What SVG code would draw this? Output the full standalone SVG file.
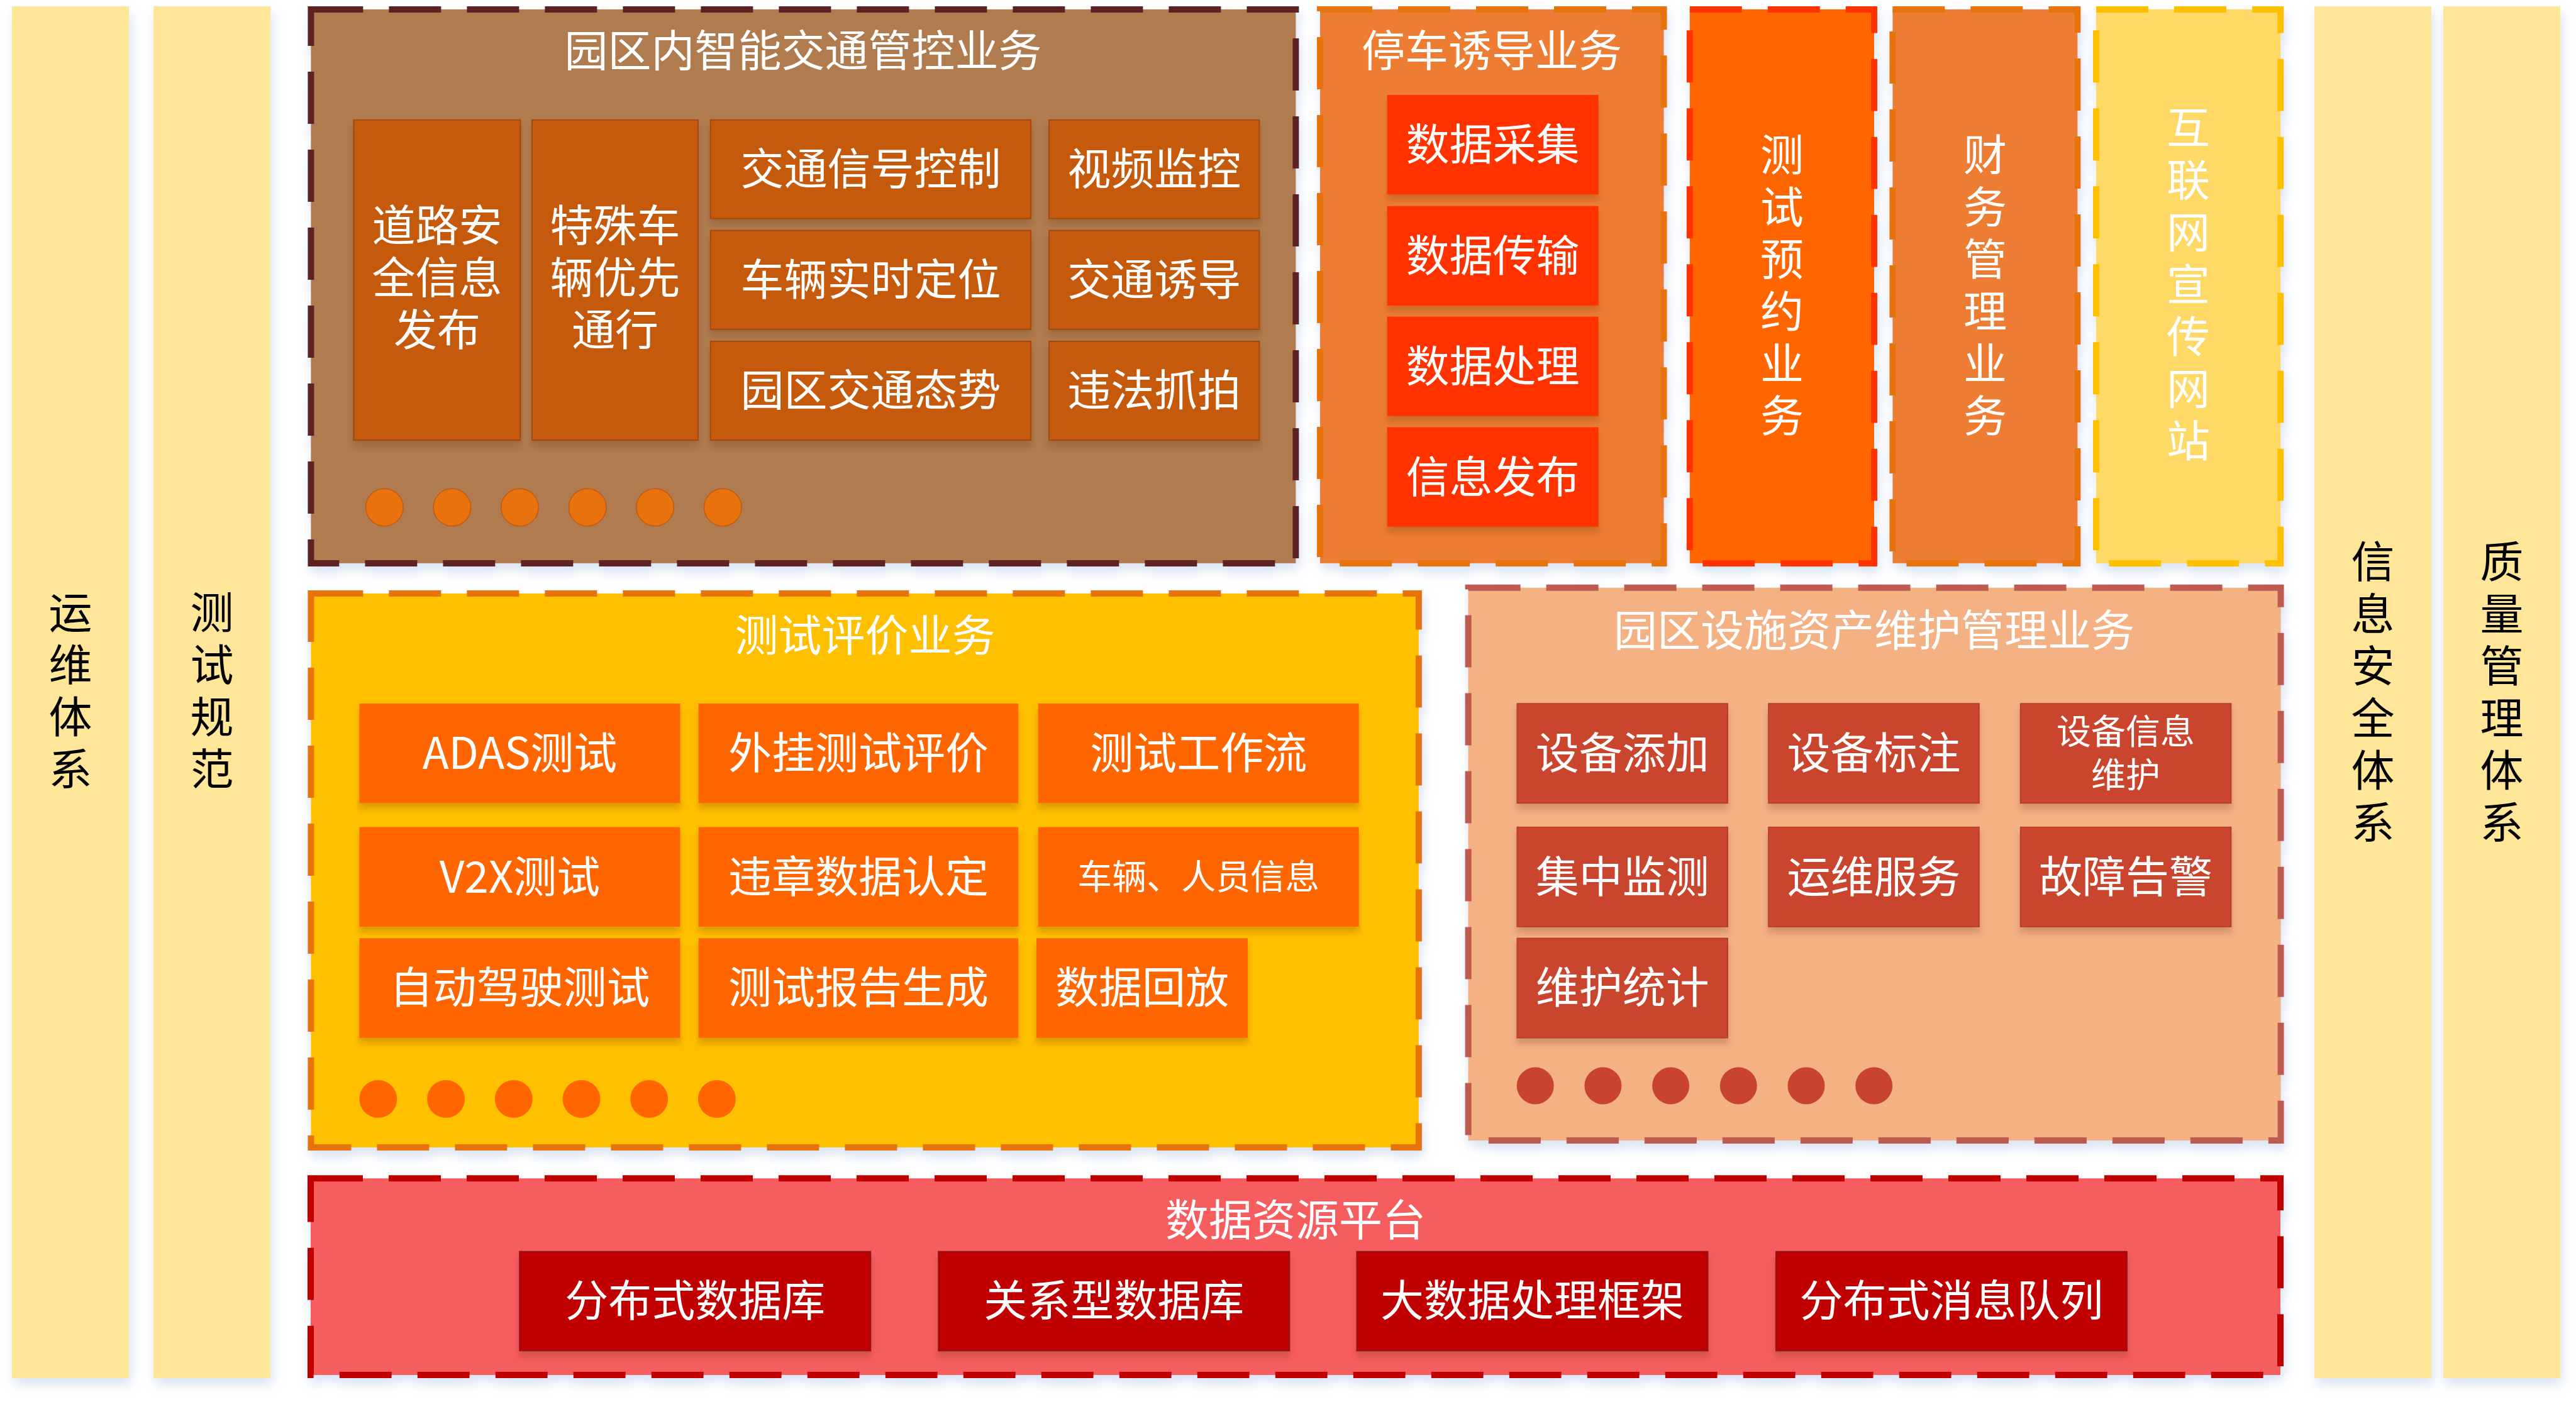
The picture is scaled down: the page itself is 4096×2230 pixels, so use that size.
<svg xmlns="http://www.w3.org/2000/svg" width="4096" height="2230" viewBox="0 0 4096 2230">
<defs>
<filter id="soft" x="-25%" y="-10%" width="150%" height="130%"><feDropShadow dx="3" dy="10" stdDeviation="9" flood-color="#A9C1E4" flood-opacity="0.45"/></filter>
<filter id="sh" x="-10%" y="-20%" width="120%" height="150%"><feDropShadow dx="0" dy="9" stdDeviation="5" flood-color="#5A2A00" flood-opacity="0.22"/></filter>
</defs>
<style>
text{font-family:"Noto Sans CJK SC","Noto Sans",sans-serif;fill:#fff;text-anchor:middle;dominant-baseline:central}
.t{font-size:69px}
.s{font-size:55px}
.k{fill:#000}
.v{writing-mode:vertical-rl;letter-spacing:14px}
.col{fill:#FFE699;filter:url(#soft)}
.cont{stroke-width:10;stroke-dasharray:83 41;filter:url(#soft)}
.b1{fill:#C55A11;stroke:#A34A0D;stroke-width:2;filter:url(#sh)}
.b2{fill:#FF3300;filter:url(#sh)}
.b6{fill:#FF6600;filter:url(#sh)}
.b7{fill:#C9442E;stroke:#B53B27;stroke-width:1.5;filter:url(#sh)}
.b8{fill:#C00000;stroke:#8E1616;stroke-width:2;filter:url(#sh)}
.d1{fill:#E8730E;stroke:#C05A10;stroke-width:1.5}
.d6{fill:#FF6600}
.d7{fill:#C9442E}
</style>

<!-- side columns -->
<g id="yunwei">
<rect class="col" x="19" y="10" width="186" height="2182"/>
<text class="t k v" x="112" y="1105">运维体系</text>
</g>
<g id="ceshiguifan">
<rect class="col" x="244" y="10" width="186" height="2182"/>
<text class="t k v" x="337" y="1105">测试规范</text>
</g>
<g id="xinxianquan">
<rect class="col" x="3680" y="10" width="186" height="2182"/>
<text class="t k v" x="3773" y="1107">信息安全体系</text>
</g>
<g id="zhiliang">
<rect class="col" x="3885" y="10" width="186" height="2182"/>
<text class="t k v" x="3978" y="1107">质量管理体系</text>
</g>

<!-- 园区内智能交通管控业务 -->
<g id="traffic">
<rect class="cont" x="494.4" y="14.9" width="1566" height="881" fill="#B07B50" stroke="#5F2320"/>
<text class="t" x="1277" y="75.5">园区内智能交通管控业务</text>
<g id="t-road"><rect class="b1" x="562.4" y="190.8" width="265" height="509.3"/>
<text class="t"><tspan x="695" y="354">道路安</tspan><tspan x="695" y="437">全信息</tspan><tspan x="695" y="520">发布</tspan></text></g>
<g id="t-special"><rect class="b1" x="846.1" y="190.8" width="263.8" height="509.3"/>
<text class="t"><tspan x="978" y="354">特殊车</tspan><tspan x="978" y="437">辆优先</tspan><tspan x="978" y="520">通行</tspan></text></g>
<g id="t-signal"><rect class="b1" x="1129.8" y="190.8" width="509.3" height="156.8"/><text class="t" x="1384.5" y="264">交通信号控制</text></g>
<g id="t-video"><rect class="b1" x="1668.1" y="190.8" width="334.3" height="156.8"/><text class="t" x="1835.2" y="264">视频监控</text></g>
<g id="t-locate"><rect class="b1" x="1129.8" y="366.6" width="509.3" height="157.2"/><text class="t" x="1384.5" y="440">车辆实时定位</text></g>
<g id="t-guide"><rect class="b1" x="1668.1" y="366.6" width="334.3" height="157.2"/><text class="t" x="1835.2" y="440">交通诱导</text></g>
<g id="t-situation"><rect class="b1" x="1129.8" y="542.9" width="509.3" height="157.2"/><text class="t" x="1384.5" y="616">园区交通态势</text></g>
<g id="t-capture"><rect class="b1" x="1668.1" y="542.9" width="334.3" height="157.2"/><text class="t" x="1835.2" y="616">违法抓拍</text></g>
<g id="t-dots">
<circle class="d1" cx="611.3" cy="807" r="29.8"/><circle class="d1" cx="718.9" cy="807" r="29.8"/><circle class="d1" cx="826.5" cy="807" r="29.8"/><circle class="d1" cx="934.1" cy="807" r="29.8"/><circle class="d1" cx="1041.7" cy="807" r="29.8"/><circle class="d1" cx="1149.3" cy="807" r="29.8"/>
</g>
</g>

<!-- 停车诱导业务 -->
<g id="parking">
<rect class="cont" x="2099" y="14.9" width="546.6" height="881" fill="#ED7D31" stroke="#E8730E"/>
<text class="t" x="2372" y="75.5">停车诱导业务</text>
<g id="p-collect"><rect class="b2" x="2205.6" y="151" width="336" height="158.4"/><text class="t" x="2373.6" y="225">数据采集</text></g>
<g id="p-transfer"><rect class="b2" x="2205.6" y="327.7" width="336" height="158.4"/><text class="t" x="2373.6" y="402">数据传输</text></g>
<g id="p-process"><rect class="b2" x="2205.6" y="503.5" width="336" height="158.4"/><text class="t" x="2373.6" y="578">数据处理</text></g>
<g id="p-publish"><rect class="b2" x="2205.6" y="679.4" width="336" height="158.4"/><text class="t" x="2373.6" y="754">信息发布</text></g>
</g>

<!-- 测试预约业务 -->
<g id="booking">
<rect class="cont" x="2686.8" y="14.9" width="293.2" height="881" fill="#FF6600" stroke="#FF3300"/>
<text class="t v" x="2833.4" y="460">测试预约业务</text>
</g>

<!-- 财务管理业务 -->
<g id="finance">
<rect class="cont" x="3009.4" y="14.9" width="294" height="881" fill="#ED7D31" stroke="#E8730E"/>
<text class="t v" x="3156.4" y="460">财务管理业务</text>
</g>

<!-- 互联网宣传网站 -->
<g id="website">
<rect class="cont" x="3333" y="14.9" width="293.2" height="881" fill="#FFD966" stroke="#FFC000"/>
<text class="t v" x="3479.6" y="459">互联网宣传网站</text>
</g>

<!-- 测试评价业务 -->
<g id="evaluation">
<rect class="cont" x="494.4" y="944" width="1761.5" height="881" fill="#FFC000" stroke="#E8730E"/>
<text class="t" x="1375.5" y="1006">测试评价业务</text>
<g id="e-adas"><rect class="b6" x="571.5" y="1119" width="510" height="158.5"/><text class="t" x="826.5" y="1193">ADAS测试</text></g>
<g id="e-plugin"><rect class="b6" x="1110.7" y="1119" width="508.5" height="158.5"/><text class="t" x="1365" y="1193">外挂测试评价</text></g>
<g id="e-flow"><rect class="b6" x="1650.7" y="1119" width="510" height="158.5"/><text class="t" x="1905.7" y="1193">测试工作流</text></g>
<g id="e-v2x"><rect class="b6" x="571.5" y="1315.6" width="510" height="158.5"/><text class="t" x="826.5" y="1390">V2X测试</text></g>
<g id="e-violation"><rect class="b6" x="1110.7" y="1315.6" width="508.5" height="158.5"/><text class="t" x="1365" y="1390">违章数据认定</text></g>
<g id="e-info"><rect class="b6" x="1650.7" y="1315.6" width="510" height="158.5"/><text class="s" x="1905.7" y="1390">车辆、人员信息</text></g>
<g id="e-auto"><rect class="b6" x="571.5" y="1492.3" width="510" height="158.5"/><text class="t" x="826.5" y="1566">自动驾驶测试</text></g>
<g id="e-report"><rect class="b6" x="1110.7" y="1492.3" width="508.5" height="158.5"/><text class="t" x="1365" y="1566">测试报告生成</text></g>
<g id="e-replay"><rect class="b6" x="1648" y="1492.3" width="336" height="158.5"/><text class="t" x="1816" y="1566">数据回放</text></g>
<g id="e-dots">
<circle class="d6" cx="601.4" cy="1748" r="30"/><circle class="d6" cx="709.1" cy="1748" r="30"/><circle class="d6" cx="816.8" cy="1748" r="30"/><circle class="d6" cx="924.5" cy="1748" r="30"/><circle class="d6" cx="1032.2" cy="1748" r="30"/><circle class="d6" cx="1139.9" cy="1748" r="30"/>
</g>
</g>

<!-- 园区设施资产维护管理业务 -->
<g id="facility">
<rect class="cont" x="2334.6" y="934.8" width="1292" height="879.3" fill="#F4B183" stroke="#BF5A50"/>
<text class="t" x="2980" y="998">园区设施资产维护管理业务</text>
<g id="f-add"><rect class="b7" x="2412.2" y="1119" width="335" height="158.5"/><text class="t" x="2579.7" y="1193">设备添加</text></g>
<g id="f-mark"><rect class="b7" x="2812" y="1119" width="335" height="158.5"/><text class="t" x="2979.5" y="1193">设备标注</text></g>
<g id="f-maint"><rect class="b7" x="3212.6" y="1119" width="335" height="158.5"/><text class="s"><tspan x="3380.1" y="1159">设备信息</tspan><tspan x="3380.1" y="1228">维护</tspan></text></g>
<g id="f-monitor"><rect class="b7" x="2412.2" y="1315.6" width="335" height="158.5"/><text class="t" x="2579.7" y="1390">集中监测</text></g>
<g id="f-ops"><rect class="b7" x="2812" y="1315.6" width="335" height="158.5"/><text class="t" x="2979.5" y="1390">运维服务</text></g>
<g id="f-alarm"><rect class="b7" x="3212.6" y="1315.6" width="335" height="158.5"/><text class="t" x="3380.1" y="1390">故障告警</text></g>
<g id="f-stat"><rect class="b7" x="2412.2" y="1492.3" width="335" height="158.5"/><text class="t" x="2579.7" y="1566">维护统计</text></g>
<g id="f-dots">
<circle class="d7" cx="2441.2" cy="1727" r="29.5"/><circle class="d7" cx="2548.9" cy="1727" r="29.5"/><circle class="d7" cx="2656.6" cy="1727" r="29.5"/><circle class="d7" cx="2764.3" cy="1727" r="29.5"/><circle class="d7" cx="2872" cy="1727" r="29.5"/><circle class="d7" cx="2979.7" cy="1727" r="29.5"/>
</g>
</g>

<!-- 数据资源平台 -->
<g id="data">
<rect class="cont" x="494" y="1874.3" width="3132" height="312.7" fill="#F65D5E" stroke="#C00000"/>
<text class="t" x="2060" y="1936">数据资源平台</text>
<g id="d-dist"><rect class="b8" x="826.2" y="1990.8" width="558" height="157.6"/><text class="t" x="1105.2" y="2064">分布式数据库</text></g>
<g id="d-rel"><rect class="b8" x="1492.3" y="1990.8" width="558" height="157.6"/><text class="t" x="1771.3" y="2064">关系型数据库</text></g>
<g id="d-big"><rect class="b8" x="2157.5" y="1990.8" width="558" height="157.6"/><text class="t" x="2436.5" y="2064">大数据处理框架</text></g>
<g id="d-mq"><rect class="b8" x="2824" y="1990.8" width="558" height="157.6"/><text class="t" x="3103" y="2064">分布式消息队列</text></g>
</g>
</svg>
